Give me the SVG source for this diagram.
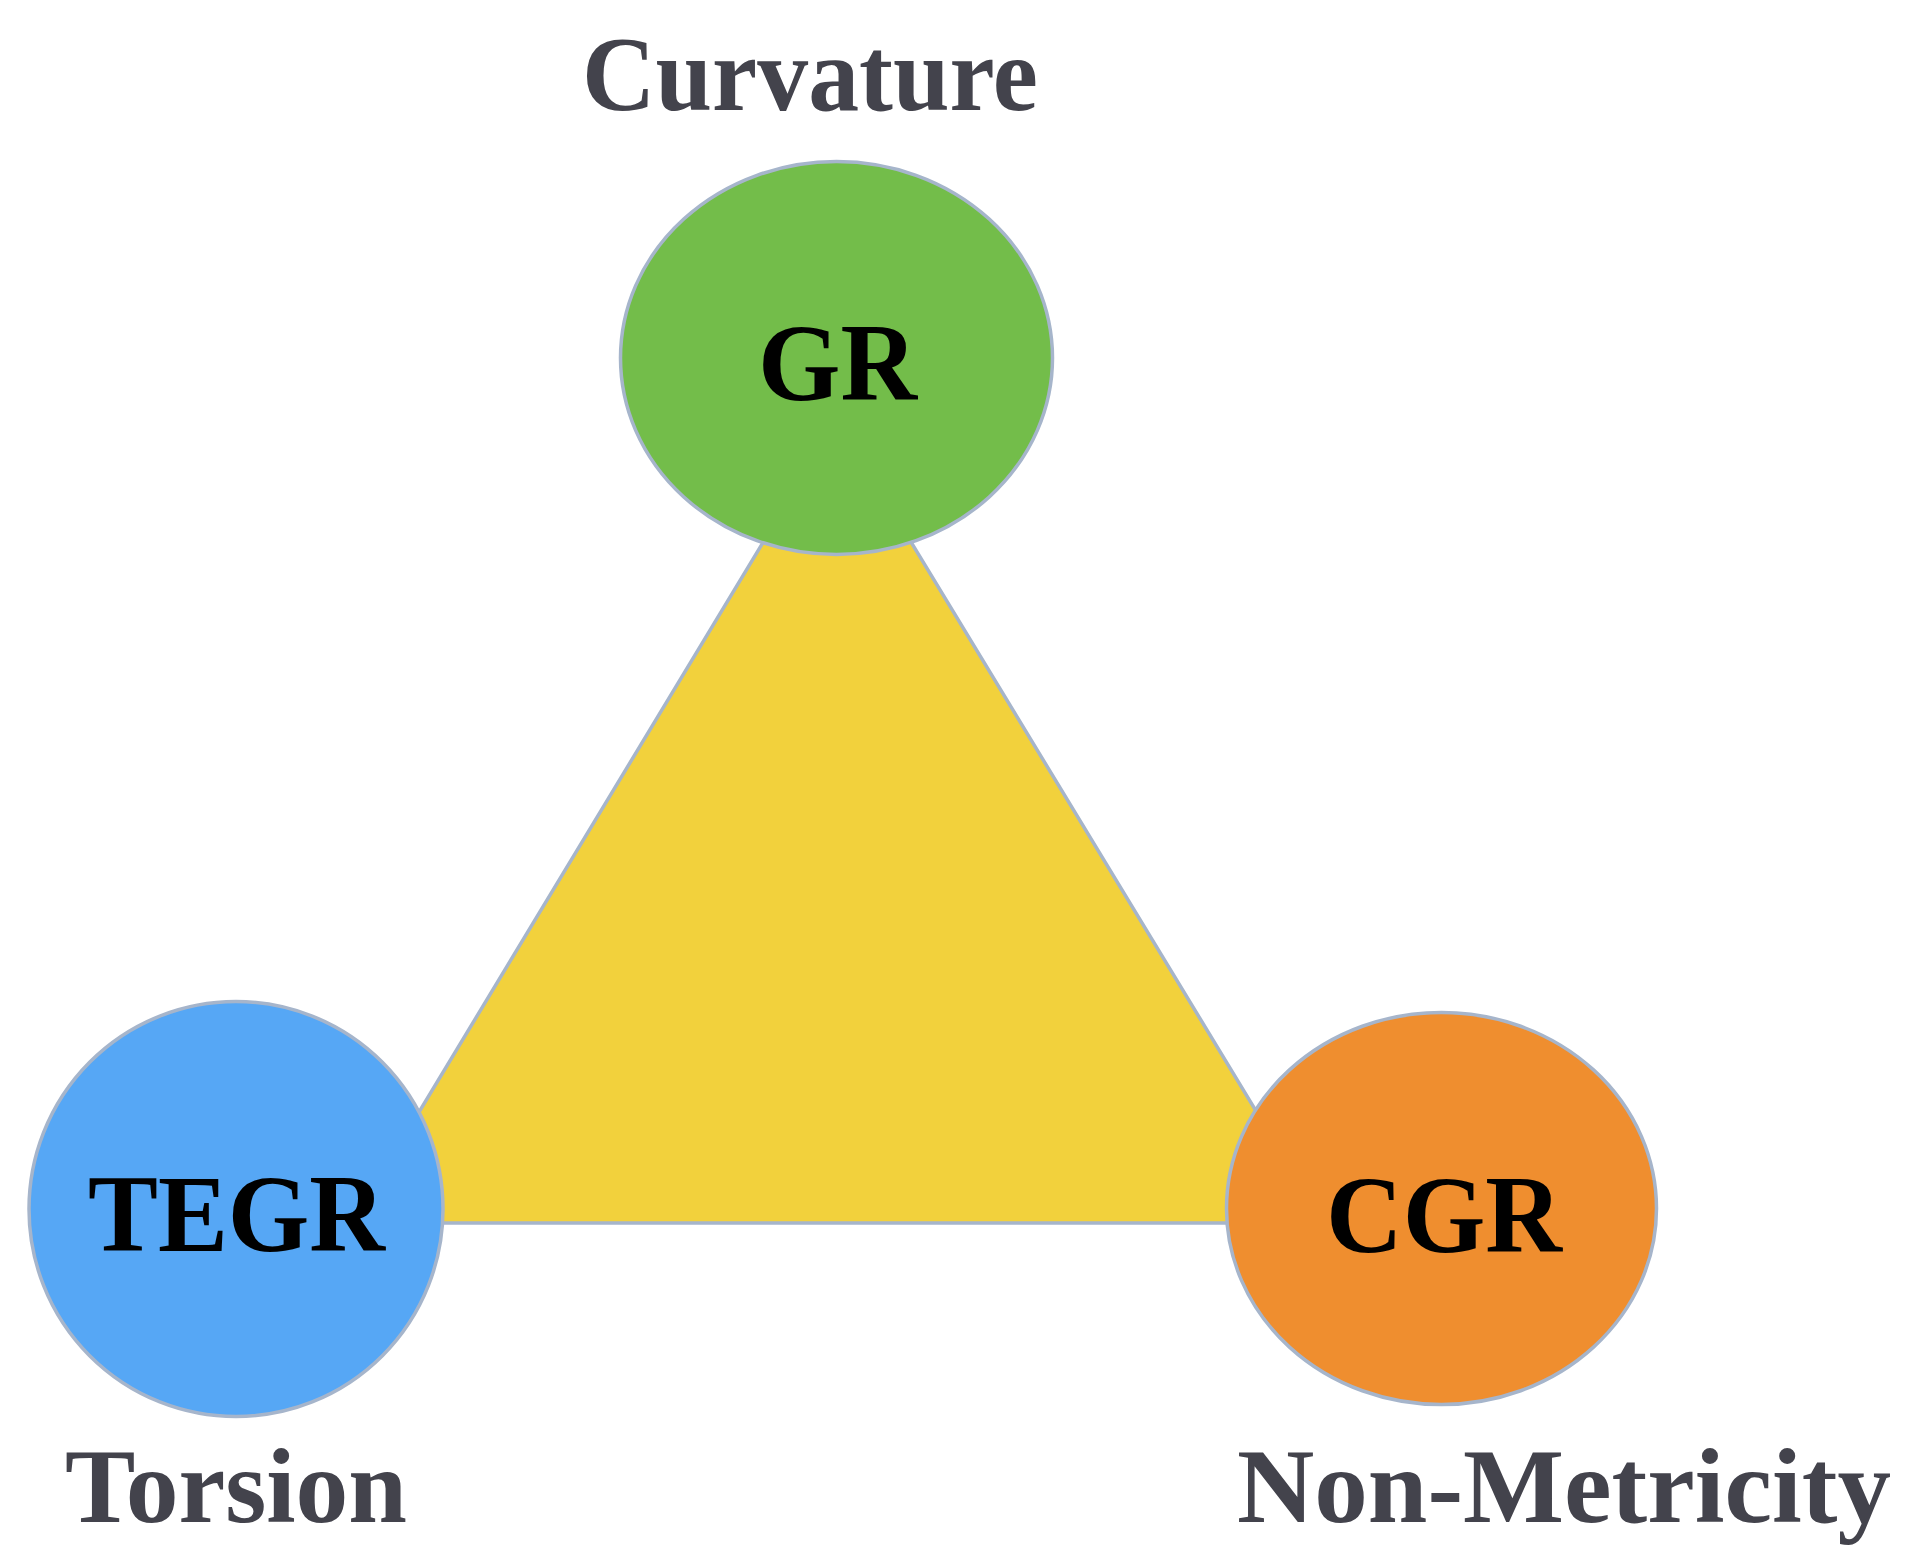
<svg xmlns="http://www.w3.org/2000/svg" width="1918" height="1558" viewBox="0 0 1918 1558">
  <style>
    .shape { stroke: #a6b5cb; stroke-width: 3.5; }
    .node-label { font-family: "Liberation Serif", "DejaVu Serif", serif; font-weight: bold; font-size: 110px; fill: #000000; text-anchor: middle; }
    .axis-label { font-family: "Liberation Serif", "DejaVu Serif", serif; font-weight: bold; font-size: 105px; fill: #43434c; text-anchor: middle; }
  </style>
  <rect width="1918" height="1558" fill="#ffffff"/>
  <g id="connectors">
    <polygon class="shape" points="837,420 1324,1223 352,1223" fill="#f2d13c"/>
  </g>
  <g id="node-GR">
    <ellipse class="shape" cx="836.5" cy="358" rx="216" ry="196.5" fill="#73bd4a"/>
    <text class="node-label" x="837.5" y="400" textLength="159" lengthAdjust="spacingAndGlyphs">GR</text>
  </g>
  <g id="node-TEGR">
    <ellipse class="shape" cx="236" cy="1209" rx="207" ry="207.5" fill="#56a7f5"/>
    <text class="node-label" x="236.5" y="1251" textLength="297" lengthAdjust="spacingAndGlyphs">TEGR</text>
  </g>
  <g id="node-CGR">
    <ellipse class="shape" cx="1441.5" cy="1208.5" rx="215" ry="196" fill="#ef8e2f"/>
    <text class="node-label" x="1444" y="1252" textLength="236" lengthAdjust="spacingAndGlyphs">CGR</text>
  </g>
  <g id="labels">
    <text class="axis-label" x="810" y="110" textLength="456" lengthAdjust="spacingAndGlyphs">Curvature</text>
    <text class="axis-label" x="236" y="1522" textLength="342" lengthAdjust="spacingAndGlyphs">Torsion</text>
    <text class="axis-label" x="1564" y="1522" textLength="654" lengthAdjust="spacingAndGlyphs">Non-Metricity</text>
  </g>
</svg>
